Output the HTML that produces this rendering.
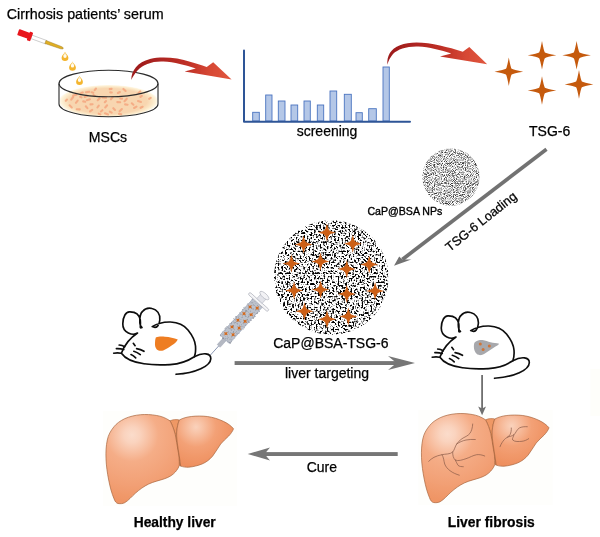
<!DOCTYPE html>
<html><head><meta charset="utf-8"><title>TSG-6 scheme</title>
<style>
html,body{margin:0;padding:0;background:#fff;}
body{width:600px;height:537px;overflow:hidden;}
svg{display:block}
text{font-family:"Liberation Sans",sans-serif;fill:#000;stroke:#000;stroke-width:0.25px}
</style></head><body>
<svg width="600" height="537" viewBox="0 0 600 537">
<defs>
<filter id="soft" x="0" y="0" width="600" height="537" filterUnits="userSpaceOnUse"><feGaussianBlur stdDeviation="0.3"/></filter><filter id="blur03" x="-20%" y="-20%" width="140%" height="140%"><feGaussianBlur stdDeviation="0.35"/></filter><filter id="noise" x="0" y="0" width="100%" height="100%" color-interpolation-filters="sRGB">
<feTurbulence type="fractalNoise" baseFrequency="0.55" numOctaves="1" seed="3" result="t"/>
<feColorMatrix type="matrix" values="0 0 0 0 0  0 0 0 0 0  0 0 0 0 0  8 0 0 0 -3.98" />
</filter>
<filter id="noise3" x="0" y="0" width="100%" height="100%" color-interpolation-filters="sRGB"><feTurbulence type="fractalNoise" baseFrequency="0.8" numOctaves="1" seed="5"/><feColorMatrix type="matrix" values="0 0 0 0 0.45  0 0 0 0 0.47  0 0 0 0 0.52  6 0 0 0 -3.0"/></filter><filter id="noise2" x="0" y="0" width="100%" height="100%" color-interpolation-filters="sRGB">
<feTurbulence type="fractalNoise" baseFrequency="1.1" numOctaves="1" seed="11" result="t"/>
<feColorMatrix type="matrix" values="0 0 0 0 0.2  0 0 0 0 0.2  0 0 0 0 0.2  3.2 0 0 0 -1.33" />
</filter>
<clipPath id="cBig"><circle cx="331.2" cy="277.5" r="57.2"/></clipPath>
<clipPath id="cSmall"><circle cx="451" cy="177" r="28.6"/></clipPath>
<linearGradient id="redA1" gradientUnits="userSpaceOnUse" x1="131" y1="70" x2="232" y2="75"><stop offset="0" stop-color="#9c1a1c"/><stop offset="0.55" stop-color="#bf3026"/><stop offset="0.8" stop-color="#d84a36"/><stop offset="1" stop-color="#e0573e"/></linearGradient><linearGradient id="redA2" gradientUnits="userSpaceOnUse" x1="387" y1="55" x2="488" y2="60"><stop offset="0" stop-color="#9c1a1c"/><stop offset="0.55" stop-color="#bf3026"/><stop offset="0.8" stop-color="#d84a36"/><stop offset="1" stop-color="#e0573e"/></linearGradient>
<radialGradient id="lgR" gradientUnits="userSpaceOnUse" cx="132" cy="435" r="66"><stop offset="0" stop-color="#fbdccb"/><stop offset="0.12" stop-color="#fad3be"/><stop offset="0.4" stop-color="#f5ad87"/><stop offset="0.75" stop-color="#f2a075"/><stop offset="1" stop-color="#ef9565"/></radialGradient>
<radialGradient id="lgL" gradientUnits="userSpaceOnUse" cx="196" cy="427" r="40"><stop offset="0" stop-color="#fad2bc"/><stop offset="0.15" stop-color="#f8c4a8"/><stop offset="0.5" stop-color="#f3a176"/><stop offset="1" stop-color="#ee8f5e"/></radialGradient>
<radialGradient id="liqR" cx="0.5" cy="0.5" r="0.5"><stop offset="0" stop-color="#f8d6b0"/><stop offset="0.78" stop-color="#f8d6b0"/><stop offset="0.88" stop-color="#fbe6c4"/><stop offset="0.96" stop-color="#fef4dc"/><stop offset="1" stop-color="#fffaf0"/></radialGradient><linearGradient id="surf" gradientUnits="userSpaceOnUse" x1="0" y1="86" x2="0" y2="97"><stop offset="0" stop-color="#fef6e2"/><stop offset="0.6" stop-color="#fdecd0"/><stop offset="1" stop-color="#fbe0bd"/></linearGradient><linearGradient id="liq" gradientUnits="userSpaceOnUse" x1="0" y1="90" x2="0" y2="117"><stop offset="0" stop-color="#fadfbd"/><stop offset="1" stop-color="#f7d3ac"/></linearGradient>
</defs>
<rect width="600" height="537" fill="#fff"/>
<g filter="url(#soft)">

<rect x="590.5" y="369" width="10" height="47" fill="#fefefa"/>
<!-- title -->
<text x="6.8" y="19.2" font-size="14.3">Cirrhosis patients’ serum</text>

<!-- dropper -->
<g transform="translate(18.2,32) rotate(20.1)">
<rect x="14" y="-1.8" width="16" height="3.6" fill="#fff" stroke="#b5b5b5" stroke-width="0.6"/>
<path d="M29,-1.6 L45.5,-1.2 L47.8,-0.6 L47.8,0.6 L45.5,1.2 L29,1.6Z" fill="#e0ae22" stroke="#a07f2c" stroke-width="0.45"/>
<rect x="0" y="-3.1" width="11.5" height="6.2" rx="0.8" fill="#e8131b"/>
<rect x="10.8" y="-4.5" width="3.6" height="9.2" rx="0.8" fill="#e8131b"/>
</g>
<!-- drops -->
<g filter="url(#blur03)">
<path d="M65,51.699999999999996 C65.6,53.699999999999996 68.4,55.3 68.4,57.8 A3.4,3.3 0 0 1 61.6,57.8 C61.6,55.3 64.4,53.699999999999996 65,51.699999999999996Z" fill="#f4b52e"/><ellipse cx="65" cy="56.0" rx="1.7" ry="1.9" fill="#fffbee"/><path d="M65,51.699999999999996 L65.9,54.4 L64.1,54.4Z" fill="#fdeec5"/><path d="M72.5,61.39999999999999 C73.1,63.39999999999999 75.9,65.0 75.9,67.5 A3.4,3.3 0 0 1 69.1,67.5 C69.1,65.0 71.9,63.39999999999999 72.5,61.39999999999999Z" fill="#f4b52e"/><ellipse cx="72.5" cy="65.69999999999999" rx="1.7" ry="1.9" fill="#fffbee"/><path d="M72.5,61.39999999999999 L73.4,64.1 L71.6,64.1Z" fill="#fdeec5"/><path d="M79.5,75.7 C80.1,77.7 82.9,79.30000000000001 82.9,81.80000000000001 A3.4,3.3 0 0 1 76.1,81.80000000000001 C76.1,79.30000000000001 78.9,77.7 79.5,75.7Z" fill="#f4b52e"/><ellipse cx="79.5" cy="80.0" rx="1.7" ry="1.9" fill="#fffbee"/><path d="M79.5,75.7 L80.4,78.4 L78.6,78.4Z" fill="#fdeec5"/>
</g>

<!-- petri dish -->
<g>
<clipPath id="rimClip"><ellipse cx="108.5" cy="83.5" rx="49" ry="12.9"/></clipPath>
<path d="M59,83.5 L59,104 A49.5,12.8 0 0 0 158,104 L158,83.5 A49.5,13.3 0 0 1 59,83.5Z" fill="#fff"/>
<clipPath id="dishClip"><path d="M59.5,84 L59.5,104 A49,12.4 0 0 0 157.5,104 L157.5,84 A49,13 0 0 0 59.5,84Z"/></clipPath>
<g clip-path="url(#dishClip)"><ellipse cx="108.5" cy="101.2" rx="49.5" ry="16.3" fill="url(#liqR)"/></g>
<g stroke="#f4a27c" stroke-opacity="0.8" stroke-width="2.1" stroke-linecap="round">
<line x1="91.7" y1="92.3" x2="93.3" y2="92.8"/><line x1="110.9" y1="99.3" x2="112.6" y2="97.4"/><line x1="65.8" y1="100.8" x2="67.0" y2="99.6"/><line x1="100.9" y1="111.5" x2="102.4" y2="110.2"/><line x1="119.0" y1="113.9" x2="121.2" y2="114.3"/><line x1="140.4" y1="96.9" x2="141.8" y2="95.8"/><line x1="90.0" y1="111.3" x2="92.2" y2="109.8"/><line x1="120.3" y1="98.5" x2="122.0" y2="98.6"/><line x1="90.5" y1="104.4" x2="92.6" y2="104.2"/><line x1="134.1" y1="108.0" x2="136.5" y2="106.7"/><line x1="109.9" y1="111.7" x2="111.7" y2="112.6"/><line x1="75.9" y1="102.8" x2="77.7" y2="100.6"/><line x1="131.8" y1="103.3" x2="133.4" y2="104.7"/><line x1="125.1" y1="104.4" x2="127.5" y2="104.7"/><line x1="105.2" y1="107.5" x2="107.1" y2="105.3"/><line x1="97.4" y1="107.5" x2="98.8" y2="105.6"/><line x1="73.2" y1="95.5" x2="76.4" y2="94.8"/><line x1="86.8" y1="100.2" x2="89.9" y2="99.3"/><line x1="83.2" y1="101.4" x2="85.2" y2="101.8"/><line x1="123.4" y1="88.9" x2="125.6" y2="91.0"/><line x1="97.7" y1="100.2" x2="99.7" y2="98.3"/><line x1="81.2" y1="93.1" x2="82.8" y2="92.6"/><line x1="71.2" y1="99.6" x2="73.2" y2="97.0"/><line x1="117.9" y1="93.0" x2="119.9" y2="92.0"/><line x1="104.8" y1="102.2" x2="106.0" y2="101.0"/><line x1="93.4" y1="95.1" x2="94.9" y2="96.2"/><line x1="110.3" y1="92.4" x2="111.8" y2="92.5"/><line x1="140.6" y1="107.8" x2="142.6" y2="106.8"/><line x1="76.7" y1="109.2" x2="79.7" y2="109.4"/><line x1="94.7" y1="90.1" x2="96.0" y2="88.5"/><line x1="85.8" y1="106.3" x2="87.4" y2="108.1"/><line x1="149.1" y1="98.8" x2="150.7" y2="97.8"/><line x1="138.0" y1="101.0" x2="141.0" y2="101.9"/><line x1="69.6" y1="105.3" x2="71.8" y2="107.4"/><line x1="98.7" y1="113.7" x2="100.4" y2="114.4"/><line x1="84.7" y1="97.0" x2="87.1" y2="95.8"/><line x1="109.7" y1="89.1" x2="111.6" y2="88.9"/><line x1="113.3" y1="108.2" x2="115.0" y2="109.9"/><line x1="117.3" y1="102.1" x2="120.2" y2="102.2"/><line x1="105.0" y1="113.3" x2="108.0" y2="114.5"/><line x1="138.5" y1="93.0" x2="140.3" y2="91.4"/><line x1="80.1" y1="96.8" x2="81.5" y2="97.4"/><line x1="86.0" y1="92.2" x2="89.3" y2="91.8"/><line x1="124.5" y1="101.2" x2="126.8" y2="98.7"/><line x1="119.6" y1="111.3" x2="121.9" y2="109.0"/><line x1="102.6" y1="97.5" x2="106.0" y2="97.8"/>
</g>
<path d="M59,83.5 L59,104 A49.5,12.8 0 0 0 158,104 L158,83.5" fill="none" stroke="#2b2b2b" stroke-width="1.1"/>
<ellipse cx="108.5" cy="83.5" rx="49.5" ry="13.3" fill="none" stroke="#2b2b2b" stroke-width="1.1"/>
</g>
<text x="88.8" y="141.5" font-size="14.1">MSCs</text>

<!-- red arrow 1 -->
<path d="M131.3,80 C131.2,71 137.5,62 150,59 C162,56.2 178,57.8 190,61.8 C196,63.6 201,65 206.7,67 L213.2,62.3 L231.6,79.6 L184.6,71.4 L195.8,68.5 C186,65 174,62 163.3,61.5 C152,61 143,64.5 137.5,70.5 C134.5,74 132.5,77 131.3,80Z" fill="url(#redA1)"/>

<!-- chart -->
<g>
<rect x="252.7" y="112.3" width="6.6" height="8.7" fill="#b4c7e7" stroke="#4a74c0" stroke-width="0.9"/><rect x="265.7" y="95" width="6.3" height="26.0" fill="#b4c7e7" stroke="#4a74c0" stroke-width="0.9"/><rect x="278.3" y="101" width="6.7" height="20.0" fill="#b4c7e7" stroke="#4a74c0" stroke-width="0.9"/><rect x="291" y="105" width="6.7" height="16.0" fill="#b4c7e7" stroke="#4a74c0" stroke-width="0.9"/><rect x="304" y="101" width="6.3" height="20.0" fill="#b4c7e7" stroke="#4a74c0" stroke-width="0.9"/><rect x="317.3" y="105" width="6.4" height="16.0" fill="#b4c7e7" stroke="#4a74c0" stroke-width="0.9"/><rect x="330" y="91" width="6.7" height="30.0" fill="#b4c7e7" stroke="#4a74c0" stroke-width="0.9"/><rect x="344.3" y="94.3" width="7.0" height="26.7" fill="#b4c7e7" stroke="#4a74c0" stroke-width="0.9"/><rect x="356" y="112.7" width="6.3" height="8.3" fill="#b4c7e7" stroke="#4a74c0" stroke-width="0.9"/><rect x="368.7" y="108.7" width="7.6" height="12.3" fill="#b4c7e7" stroke="#4a74c0" stroke-width="0.9"/><rect x="383" y="67" width="6.3" height="54.0" fill="#b4c7e7" stroke="#4a74c0" stroke-width="0.9"/>
<path d="M244,50.5 L244,121.7 L410,121.7" fill="none" stroke="#2f5597" stroke-width="2" stroke-linecap="round" stroke-linejoin="round"/>
</g>
<text x="296.7" y="136" font-size="14">screening</text>

<!-- red arrow 2 -->
<path d="M387.4,64.7 C386.7,56 390.5,48.8 400,45.2 C410,41.2 425,42 440,45.6 C448,47.5 455,49.3 462.8,51.7 L469.3,46.9 L487.2,64.2 L440,56.4 L451.3,53.5 C441,50 429,47 418.3,46.5 C407,46.1 398,49 393,54 C390,57.5 388.3,61 387.4,64.7Z" fill="url(#redA2)"/>

<!-- TSG-6 stars -->
<g fill="#c55a11">
<path d="M508.80,57.40 Q510.57,67.12 511.66,68.84 Q513.38,69.93 523.10,71.70 Q513.38,73.47 511.66,74.56 Q510.57,76.28 508.80,86.00 Q507.03,76.28 505.94,74.56 Q504.22,73.47 494.50,71.70 Q504.22,69.93 505.94,68.84 Q507.03,67.12 508.80,57.40Z"/><path d="M542.00,41.00 Q543.77,50.72 544.86,52.44 Q546.58,53.53 556.30,55.30 Q546.58,57.07 544.86,58.16 Q543.77,59.88 542.00,69.60 Q540.23,59.88 539.14,58.16 Q537.42,57.07 527.70,55.30 Q537.42,53.53 539.14,52.44 Q540.23,50.72 542.00,41.00Z"/><path d="M576.60,41.00 Q578.37,50.72 579.46,52.44 Q581.18,53.53 590.90,55.30 Q581.18,57.07 579.46,58.16 Q578.37,59.88 576.60,69.60 Q574.83,59.88 573.74,58.16 Q572.02,57.07 562.30,55.30 Q572.02,53.53 573.74,52.44 Q574.83,50.72 576.60,41.00Z"/><path d="M542.00,76.20 Q543.77,85.92 544.86,87.64 Q546.58,88.73 556.30,90.50 Q546.58,92.27 544.86,93.36 Q543.77,95.08 542.00,104.80 Q540.23,95.08 539.14,93.36 Q537.42,92.27 527.70,90.50 Q537.42,88.73 539.14,87.64 Q540.23,85.92 542.00,76.20Z"/><path d="M579.00,70.10 Q580.77,79.82 581.86,81.54 Q583.58,82.63 593.30,84.40 Q583.58,86.17 581.86,87.26 Q580.77,88.98 579.00,98.70 Q577.23,88.98 576.14,87.26 Q574.42,86.17 564.70,84.40 Q574.42,82.63 576.14,81.54 Q577.23,79.82 579.00,70.10Z"/>
</g>
<text x="529" y="136" font-size="14">TSG-6</text>

<!-- small NP circle -->
<g clip-path="url(#cSmall)">
<rect x="420" y="146" width="64" height="64" fill="#fff"/>
<rect x="420" y="146" width="64" height="64" filter="url(#noise2)"/>
</g>
<text x="367.4" y="215.2" font-size="10.6" style="stroke-width:0.35px">CaP@BSA NPs</text>

<!-- gray diagonal arrow -->
<g fill="#727272" stroke="none">
<path d="M545.4,147.7 L547.6,150.7 L403.5,260.9 L401.2,258.0Z"/>
<path d="M394.0,265.8 L399.2,256.6 L402.3,259.4 L411.3,259.4Z"/>
</g>
<text transform="translate(449.8,251.9) rotate(-38.5)" font-size="12.8">TSG-6 Loading</text>

<!-- big circle -->
<g clip-path="url(#cBig)">
<rect x="272" y="218" width="120" height="120" fill="#fff"/>
<rect x="272" y="218" width="120" height="120" filter="url(#noise)"/>
</g>
<g fill="#cc5f14">
<path d="M326.90,223.60 Q328.41,229.72 329.33,230.17 Q329.78,231.09 335.90,232.60 Q329.78,234.11 329.33,235.03 Q328.41,235.48 326.90,241.60 Q325.39,235.48 324.47,235.03 Q324.02,234.11 317.90,232.60 Q324.02,231.09 324.47,230.17 Q325.39,229.72 326.90,223.60Z"/><path d="M303.60,235.50 Q305.11,241.62 306.03,242.07 Q306.48,242.99 312.60,244.50 Q306.48,246.01 306.03,246.93 Q305.11,247.38 303.60,253.50 Q302.09,247.38 301.17,246.93 Q300.72,246.01 294.60,244.50 Q300.72,242.99 301.17,242.07 Q302.09,241.62 303.60,235.50Z"/><path d="M352.80,234.70 Q354.31,240.82 355.23,241.27 Q355.68,242.19 361.80,243.70 Q355.68,245.21 355.23,246.13 Q354.31,246.58 352.80,252.70 Q351.29,246.58 350.37,246.13 Q349.92,245.21 343.80,243.70 Q349.92,242.19 350.37,241.27 Q351.29,240.82 352.80,234.70Z"/><path d="M291.40,254.60 Q292.91,260.72 293.83,261.17 Q294.28,262.09 300.40,263.60 Q294.28,265.11 293.83,266.03 Q292.91,266.48 291.40,272.60 Q289.89,266.48 288.97,266.03 Q288.52,265.11 282.40,263.60 Q288.52,262.09 288.97,261.17 Q289.89,260.72 291.40,254.60Z"/><path d="M320.40,252.50 Q321.91,258.62 322.83,259.07 Q323.28,259.99 329.40,261.50 Q323.28,263.01 322.83,263.93 Q321.91,264.38 320.40,270.50 Q318.89,264.38 317.97,263.93 Q317.52,263.01 311.40,261.50 Q317.52,259.99 317.97,259.07 Q318.89,258.62 320.40,252.50Z"/><path d="M346.80,260.00 Q348.31,266.12 349.23,266.57 Q349.68,267.49 355.80,269.00 Q349.68,270.51 349.23,271.43 Q348.31,271.88 346.80,278.00 Q345.29,271.88 344.37,271.43 Q343.92,270.51 337.80,269.00 Q343.92,267.49 344.37,266.57 Q345.29,266.12 346.80,260.00Z"/><path d="M369.20,255.50 Q370.71,261.62 371.63,262.07 Q372.08,262.99 378.20,264.50 Q372.08,266.01 371.63,266.93 Q370.71,267.38 369.20,273.50 Q367.69,267.38 366.77,266.93 Q366.32,266.01 360.20,264.50 Q366.32,262.99 366.77,262.07 Q367.69,261.62 369.20,255.50Z"/><path d="M294.10,281.50 Q295.61,287.62 296.53,288.07 Q296.98,288.99 303.10,290.50 Q296.98,292.01 296.53,292.93 Q295.61,293.38 294.10,299.50 Q292.59,293.38 291.67,292.93 Q291.22,292.01 285.10,290.50 Q291.22,288.99 291.67,288.07 Q292.59,287.62 294.10,281.50Z"/><path d="M320.60,280.60 Q322.11,286.72 323.03,287.17 Q323.48,288.09 329.60,289.60 Q323.48,291.11 323.03,292.03 Q322.11,292.48 320.60,298.60 Q319.09,292.48 318.17,292.03 Q317.72,291.11 311.60,289.60 Q317.72,288.09 318.17,287.17 Q319.09,286.72 320.60,280.60Z"/><path d="M346.80,285.00 Q348.31,291.12 349.23,291.57 Q349.68,292.49 355.80,294.00 Q349.68,295.51 349.23,296.43 Q348.31,296.88 346.80,303.00 Q345.29,296.88 344.37,296.43 Q343.92,295.51 337.80,294.00 Q343.92,292.49 344.37,291.57 Q345.29,291.12 346.80,285.00Z"/><path d="M375.10,282.00 Q376.61,288.12 377.53,288.57 Q377.98,289.49 384.10,291.00 Q377.98,292.51 377.53,293.43 Q376.61,293.88 375.10,300.00 Q373.59,293.88 372.67,293.43 Q372.22,292.51 366.10,291.00 Q372.22,289.49 372.67,288.57 Q373.59,288.12 375.10,282.00Z"/><path d="M304.50,302.30 Q306.01,308.42 306.93,308.87 Q307.38,309.79 313.50,311.30 Q307.38,312.81 306.93,313.73 Q306.01,314.18 304.50,320.30 Q302.99,314.18 302.07,313.73 Q301.62,312.81 295.50,311.30 Q301.62,309.79 302.07,308.87 Q302.99,308.42 304.50,302.30Z"/><path d="M327.00,310.20 Q328.51,316.32 329.43,316.77 Q329.88,317.69 336.00,319.20 Q329.88,320.71 329.43,321.63 Q328.51,322.08 327.00,328.20 Q325.49,322.08 324.57,321.63 Q324.12,320.71 318.00,319.20 Q324.12,317.69 324.57,316.77 Q325.49,316.32 327.00,310.20Z"/><path d="M348.30,307.40 Q349.81,313.52 350.73,313.97 Q351.18,314.89 357.30,316.40 Q351.18,317.91 350.73,318.83 Q349.81,319.28 348.30,325.40 Q346.79,319.28 345.87,318.83 Q345.42,317.91 339.30,316.40 Q345.42,314.89 345.87,313.97 Q346.79,313.52 348.30,307.40Z"/>
</g>
<text x="273.2" y="348.4" font-size="14">CaP@BSA-TSG-6</text>

<!-- syringe -->
<g transform="translate(210.3,355.2) rotate(-47.8)">
<line x1="0" y1="0" x2="13" y2="0" stroke="#8794b0" stroke-width="0.9"/>
<rect x="12.5" y="-2" width="9.5" height="4" fill="#b4b8c2" stroke="#979fb2" stroke-width="0.4"/>
<rect x="21.5" y="-6.3" width="49.5" height="12.6" fill="#bdc2cc" stroke="#98a2b6" stroke-width="0.6"/>
<rect x="21.5" y="-6.3" width="49.5" height="12.6" filter="url(#noise3)" opacity="0.55"/>
<g fill="#d5691c">
<path d="M26.50,-5.60 Q27.02,-3.83 27.33,-3.83 Q27.33,-3.52 29.10,-3.00 Q27.33,-2.48 27.33,-2.17 Q27.02,-2.17 26.50,-0.40 Q25.98,-2.17 25.67,-2.17 Q25.67,-2.48 23.90,-3.00 Q25.67,-3.52 25.67,-3.83 Q25.98,-3.83 26.50,-5.60Z"/><path d="M30.50,0.50 Q31.02,2.27 31.33,2.27 Q31.33,2.58 33.10,3.10 Q31.33,3.62 31.33,3.93 Q31.02,3.93 30.50,5.70 Q29.98,3.93 29.67,3.93 Q29.67,3.62 27.90,3.10 Q29.67,2.58 29.67,2.27 Q29.98,2.27 30.50,0.50Z"/><path d="M35.50,-5.60 Q36.02,-3.83 36.33,-3.83 Q36.33,-3.52 38.10,-3.00 Q36.33,-2.48 36.33,-2.17 Q36.02,-2.17 35.50,-0.40 Q34.98,-2.17 34.67,-2.17 Q34.67,-2.48 32.90,-3.00 Q34.67,-3.52 34.67,-3.83 Q34.98,-3.83 35.50,-5.60Z"/><path d="M39.50,0.50 Q40.02,2.27 40.33,2.27 Q40.33,2.58 42.10,3.10 Q40.33,3.62 40.33,3.93 Q40.02,3.93 39.50,5.70 Q38.98,3.93 38.67,3.93 Q38.67,3.62 36.90,3.10 Q38.67,2.58 38.67,2.27 Q38.98,2.27 39.50,0.50Z"/><path d="M44.50,-5.60 Q45.02,-3.83 45.33,-3.83 Q45.33,-3.52 47.10,-3.00 Q45.33,-2.48 45.33,-2.17 Q45.02,-2.17 44.50,-0.40 Q43.98,-2.17 43.67,-2.17 Q43.67,-2.48 41.90,-3.00 Q43.67,-3.52 43.67,-3.83 Q43.98,-3.83 44.50,-5.60Z"/><path d="M48.50,0.50 Q49.02,2.27 49.33,2.27 Q49.33,2.58 51.10,3.10 Q49.33,3.62 49.33,3.93 Q49.02,3.93 48.50,5.70 Q47.98,3.93 47.67,3.93 Q47.67,3.62 45.90,3.10 Q47.67,2.58 47.67,2.27 Q47.98,2.27 48.50,0.50Z"/><path d="M53.50,-5.60 Q54.02,-3.83 54.33,-3.83 Q54.33,-3.52 56.10,-3.00 Q54.33,-2.48 54.33,-2.17 Q54.02,-2.17 53.50,-0.40 Q52.98,-2.17 52.67,-2.17 Q52.67,-2.48 50.90,-3.00 Q52.67,-3.52 52.67,-3.83 Q52.98,-3.83 53.50,-5.60Z"/><path d="M57.50,0.50 Q58.02,2.27 58.33,2.27 Q58.33,2.58 60.10,3.10 Q58.33,3.62 58.33,3.93 Q58.02,3.93 57.50,5.70 Q56.98,3.93 56.67,3.93 Q56.67,3.62 54.90,3.10 Q56.67,2.58 56.67,2.27 Q56.98,2.27 57.50,0.50Z"/><path d="M62.50,-5.60 Q63.02,-3.83 63.33,-3.83 Q63.33,-3.52 65.10,-3.00 Q63.33,-2.48 63.33,-2.17 Q63.02,-2.17 62.50,-0.40 Q61.98,-2.17 61.67,-2.17 Q61.67,-2.48 59.90,-3.00 Q61.67,-3.52 61.67,-3.83 Q61.98,-3.83 62.50,-5.60Z"/><path d="M66.50,0.50 Q67.02,2.27 67.33,2.27 Q67.33,2.58 69.10,3.10 Q67.33,3.62 67.33,3.93 Q67.02,3.93 66.50,5.70 Q65.98,3.93 65.67,3.93 Q65.67,3.62 63.90,3.10 Q65.67,2.58 65.67,2.27 Q65.98,2.27 66.50,0.50Z"/>
</g>
<rect x="70.5" y="-13" width="2.8" height="26" rx="1.4" fill="#f4f4f6" stroke="#a3a7b1" stroke-width="0.6"/>
<rect x="73.2" y="-3.6" width="6.5" height="7.2" fill="#e3e4ea" stroke="#a9adb8" stroke-width="0.5"/>
<ellipse cx="80.5" cy="0" rx="2.3" ry="5.8" fill="#f2f2f5" stroke="#a9adb8" stroke-width="0.6"/>
</g>

<!-- mouse left -->

<g fill="none" stroke="#0c0c0c" stroke-width="1.65" stroke-linecap="round" stroke-linejoin="round">
<path d="M194.3,356.8 C203,352 211,353 210.8,358.7 C210.5,366 196,373 176,374.3" />
<path fill="#fff" d="M121.4,353.2 C124,346 130,338 137.5,333 C133,336 122.5,333 122.8,323.8 C123,316 126,312 129.3,311.9 C134,311.7 139,313 140.3,320 C141,326 139,329 142,327.5 C138.5,325 139.5,314 142.5,311.5 C145,308.5 149,307.8 152,308.5 C157,309.5 160.5,314 159.8,320 C159.3,325 157,329 152.2,326.6 C158,323 165,321.8 170.5,322 C178,322.3 184,325 188,330 C192,335 195,340 195.5,346 C195.8,350 195.5,354 194.3,356.8 C188,361 180,364 170,364.6 C160,365.2 152,365 144,363.8 C134,362.3 125,358.5 121.4,353.2Z"/>
<path d="M133.3,343.3 l1.8,2.4"/>
<path d="M119.2,345 q3,0.2 5.5,1.8 M116.4,348.6 q4,-0.2 7.4,0.9 M113.7,353.2 q4,-0.8 7.3,0"/>
<path d="M136.6,348.6 q4,0.5 7.4,2.7 M133.8,351.3 q3.5,1 6.5,3.3 M131,354.6 q2.5,1 4.7,3.2"/>
</g>

<path d="M155.8,337.6 C158.5,336.2 162,336.4 165,336.7 C169.5,337.1 174,337.8 177.8,339.4 C176.5,341.8 174.5,343.5 172.3,345 C169.5,347 166.5,349 163.2,350.4 C161,351.2 158.3,350.8 156.8,349.5 C155.3,347.8 154.8,345.3 155,343 C155.1,341 155.2,339.2 155.8,337.6Z" fill="#ee7d22"/>

<!-- mouse right -->
<g transform="translate(318.5,4)">

<g fill="none" stroke="#0c0c0c" stroke-width="1.65" stroke-linecap="round" stroke-linejoin="round">
<path d="M194.3,356.8 C203,352 211,353 210.8,358.7 C210.5,366 196,373 176,374.3" />
<path fill="#fff" d="M121.4,353.2 C124,346 130,338 137.5,333 C133,336 122.5,333 122.8,323.8 C123,316 126,312 129.3,311.9 C134,311.7 139,313 140.3,320 C141,326 139,329 142,327.5 C138.5,325 139.5,314 142.5,311.5 C145,308.5 149,307.8 152,308.5 C157,309.5 160.5,314 159.8,320 C159.3,325 157,329 152.2,326.6 C158,323 165,321.8 170.5,322 C178,322.3 184,325 188,330 C192,335 195,340 195.5,346 C195.8,350 195.5,354 194.3,356.8 C188,361 180,364 170,364.6 C160,365.2 152,365 144,363.8 C134,362.3 125,358.5 121.4,353.2Z"/>
<path d="M133.3,343.3 l1.8,2.4"/>
<path d="M119.2,345 q3,0.2 5.5,1.8 M116.4,348.6 q4,-0.2 7.4,0.9 M113.7,353.2 q4,-0.8 7.3,0"/>
<path d="M136.6,348.6 q4,0.5 7.4,2.7 M133.8,351.3 q3.5,1 6.5,3.3 M131,354.6 q2.5,1 4.7,3.2"/>
</g>

<path d="M156.3,338.2 C158.5,336.3 161.5,335.8 164,336 C167,336.3 169.5,337.6 172,338.2 C175,338.9 178,338.8 180.6,339.8 C179.5,341.6 177.5,342.4 175.5,343.4 C173,344.8 171,346.4 169,347.8 C167,349.3 165,350.6 163,351 C160.5,351.5 158.2,350.6 157,348.6 C155.6,346.2 155.2,343.5 155.4,341.2 C155.5,340 155.7,339 156.3,338.2Z" fill="#a7a8ac"/>
<g fill="#cf7438"><circle cx="161.8" cy="340" r="1.5"/><circle cx="170.8" cy="342" r="1.5"/><circle cx="164.6" cy="345.6" r="1.5"/></g>
</g>

<!-- liver targeting arrow -->
<g fill="#767676">
<rect x="234.6" y="361.1" width="163" height="3.9"/>
<path d="M415,363.05 L388,370 L396.5,363.05 L388,356.1Z"/>
</g>
<text x="285" y="378" font-size="14">liver targeting</text>


<!-- cure arrow -->
<g fill="#767676">
<rect x="263" y="452.1" width="134.7" height="3.9"/>
<path d="M247.7,454.05 L270,447.6 L264.5,454.05 L270,460.5Z"/>
</g>
<text x="306.7" y="471.8" font-size="14">Cure</text>

<!-- livers -->
<g transform="translate(0,0)"><rect x="103" y="411" width="134" height="95" fill="#fefefc"/><path d="M170,420.8 C173,419.5 176.3,419.3 179.3,420 C177.8,423.8 177,427.8 176.7,432 C176.3,437.3 177.3,442.5 178,448 C178.7,454 180.2,460 180.7,466.1 L179.3,465.3 C179.4,460 179,455 178,450.7 C177,445 176.5,440 175.3,434.7 C174,429.5 172.3,425 170,420.8Z" fill="#ef9865" stroke="#a8643c" stroke-width="0.6"/><path d="M170,420.8 C165,417.5 161,416.2 156.7,415.5 C151,414.5 146,414.3 140.7,414.7 C135,415.2 129.5,416.5 124.7,418.7 C120,421 116.5,423.5 114,426.7 C110.5,431 108.3,435 107.3,440 C106,446 105.8,452 106,458.7 C106.3,466 107.3,473 108.7,480 C110,487 111.8,493.5 114,498.7 C115,501.5 116.3,503.2 118,503.5 C120.5,503.9 122.7,503.7 124.7,502.7 C128.5,500.5 131.8,496.5 135.3,493.3 C139.5,489.5 144,486.3 148.7,484 C154,481.5 159.5,480.5 164.7,478.7 C169,477.2 172.8,475 175.3,472 C177.3,469.8 178.6,467.6 179.3,465.3 C179.4,460 179,455 178,450.7 C177,445 176.5,440 175.3,434.7 C174,429.5 172.3,425 170,420.8Z" fill="url(#lgR)" stroke="#a8643c" stroke-width="0.7"/><path d="M179.3,420 C183,418 187,417 191.3,416.5 C196.5,415.9 202,415.9 207.3,416.5 C213,417.3 218.5,419 223.3,421.3 C227.5,423.3 231.5,426 233.5,428.8 C232.5,431.5 230.8,433.8 228.7,436 C226,438.8 223,441 220.7,444 C217.8,447.8 215.7,452.3 212.7,456 C209.8,459.5 206.2,462.3 202,464 C197.8,465.7 193.2,466.8 188.7,467.2 C186,467.4 183.2,467 180.7,466.1 C180.2,460 178.7,454 178,448 C177.3,442.5 176.3,437.3 176.7,432 C177,427.8 177.8,423.8 179.3,420Z" fill="url(#lgL)" stroke="#a8643c" stroke-width="0.7"/></g>
<g transform="translate(315.5,-1)"><rect x="103" y="411" width="134" height="95" fill="#fefefc"/><path d="M170,420.8 C173,419.5 176.3,419.3 179.3,420 C177.8,423.8 177,427.8 176.7,432 C176.3,437.3 177.3,442.5 178,448 C178.7,454 180.2,460 180.7,466.1 L179.3,465.3 C179.4,460 179,455 178,450.7 C177,445 176.5,440 175.3,434.7 C174,429.5 172.3,425 170,420.8Z" fill="#ef9865" stroke="#a8643c" stroke-width="0.6"/><path d="M170,420.8 C165,417.5 161,416.2 156.7,415.5 C151,414.5 146,414.3 140.7,414.7 C135,415.2 129.5,416.5 124.7,418.7 C120,421 116.5,423.5 114,426.7 C110.5,431 108.3,435 107.3,440 C106,446 105.8,452 106,458.7 C106.3,466 107.3,473 108.7,480 C110,487 111.8,493.5 114,498.7 C115,501.5 116.3,503.2 118,503.5 C120.5,503.9 122.7,503.7 124.7,502.7 C128.5,500.5 131.8,496.5 135.3,493.3 C139.5,489.5 144,486.3 148.7,484 C154,481.5 159.5,480.5 164.7,478.7 C169,477.2 172.8,475 175.3,472 C177.3,469.8 178.6,467.6 179.3,465.3 C179.4,460 179,455 178,450.7 C177,445 176.5,440 175.3,434.7 C174,429.5 172.3,425 170,420.8Z" fill="url(#lgR)" stroke="#a8643c" stroke-width="0.7"/><path d="M179.3,420 C183,418 187,417 191.3,416.5 C196.5,415.9 202,415.9 207.3,416.5 C213,417.3 218.5,419 223.3,421.3 C227.5,423.3 231.5,426 233.5,428.8 C232.5,431.5 230.8,433.8 228.7,436 C226,438.8 223,441 220.7,444 C217.8,447.8 215.7,452.3 212.7,456 C209.8,459.5 206.2,462.3 202,464 C197.8,465.7 193.2,466.8 188.7,467.2 C186,467.4 183.2,467 180.7,466.1 C180.2,460 178.7,454 178,448 C177.3,442.5 176.3,437.3 176.7,432 C177,427.8 177.8,423.8 179.3,420Z" fill="url(#lgL)" stroke="#a8643c" stroke-width="0.7"/><g transform="translate(-315.5,1)" fill="none" stroke="#8a5a48" stroke-width="0.7" stroke-linecap="round" stroke-linejoin="round"><path d="M472.7,424 C472.5,428 471.5,431 470,433.3 C468,436 464.5,437 462,438.7 C459.8,440.2 458,442 456.7,444 C455,446.5 454.5,450 452.7,452 C450,454.5 445.5,453.8 442,454.7 C439,455.4 436.3,456 434,457.3 C432,458.4 430.3,459.7 428.7,461.3"/><path d="M456.7,444 C459.5,442 462.5,440.8 466,440 C469,439.4 472.3,439.3 475.3,439.5"/><path d="M452.7,452 C452.5,455 453.3,458.3 455.3,460 C458,461.5 462.5,459.8 466,458.7 C469.8,457.5 473,455.3 476.7,454.7 C479.5,454.3 482.3,455 484.7,456"/><path d="M442,454.7 C443.8,457.5 443.8,461 444.7,464 C445.7,466.8 447.8,469 450,470.7 C452.8,472.8 456,474.2 459.3,475.2"/><path d="M455.3,460 C456.5,461.8 456.8,463.8 458,465.3 C459.3,466.6 461.5,466.6 463.3,466.7"/><path d="M527.3,426.7 C524.5,426.5 521.5,426.8 519.3,428 C516.8,429.5 516,432.8 514,434.7 C512.2,436.2 509.5,436.3 507.3,437.3 C505,438.5 503.3,440.6 502,442.7 C501.2,444 500.5,445.3 500,446.7"/><path d="M511.3,428 C511.5,430.3 511,432.7 510,434.7 C509.3,435.8 508.3,436.7 507.3,437.3"/><path d="M514,434.7 C513.8,436.5 511.8,438.5 512.7,440 C514.5,442 519,441.6 522,441.3 C524.5,441 526.8,440 528.7,438.7"/></g></g>

<!-- down arrow -->
<g fill="#6f6f6f">
<rect x="481.2" y="375" width="1.8" height="34"/>
<path d="M482.1,415.2 L478.2,406.6 L482.1,408.6 L486,406.6Z"/>
</g>
<text x="133.7" y="526.6" font-size="13.8" font-weight="bold">Healthy liver</text>
<text x="447.8" y="526.6" font-size="13.85" font-weight="bold">Liver fibrosis</text>
</g>
</svg>
</body></html>
